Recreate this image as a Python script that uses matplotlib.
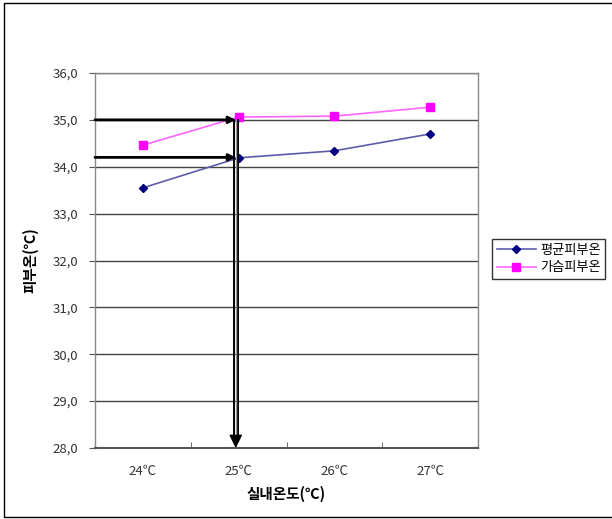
import matplotlib
matplotlib.use("Agg")
import matplotlib.pyplot as plt
from matplotlib.patches import Rectangle

plt.rcParams['font.family'] = ['Noto Sans CJK KR', 'DejaVu Sans']

categories = ['24℃', '25℃', '26℃', '27℃']
mean_skin = [33.55, 34.19, 34.34, 34.70]
chest_skin = [34.46, 35.06, 35.08, 35.27]
series_names = ['평균피부온', '가슴피부온']
y_ticks = [28.0, 29.0, 30.0, 31.0, 32.0, 33.0, 34.0, 35.0, 36.0]
y_tick_labels = [f"{v:.1f}".replace('.', ',') for v in y_ticks]

# reference levels marked by arrows
ref_levels = [35.0, 34.2]
ref_x = 0.97

fig = plt.figure(figsize=(6.12, 5.19), dpi=100)
fig.patches.append(Rectangle((4/612, 2/519), 1.2, 514/519, transform=fig.transFigure,
                             fill=False, edgecolor='black', linewidth=1.0))

ax = fig.add_axes([95/612, 71/519, 383/612, 375/519])
x = list(range(len(categories)))

ax.plot(x, mean_skin, color='#5c5cab', linewidth=1.2, marker='D', markersize=4.5,
        markerfacecolor='#000080', markeredgecolor='#000080', label=series_names[0], zorder=4)
ax.plot(x, chest_skin, color='#ff66ff', linewidth=1.2, marker='s', markersize=6,
        markerfacecolor='#ff00ff', markeredgecolor='#ff00ff', label=series_names[1], zorder=4)

ax.set_xlim(-0.5, len(categories) - 0.5)
ax.set_ylim(28.0, 36.0)
ax.set_yticks(y_ticks)
ax.set_yticklabels(y_tick_labels, fontsize=9.5, color='#333333')
ax.set_xticks(x)
ax.set_xticklabels(categories, fontsize=9.5, color='#333333')
ax.set_xticks([i + 0.5 for i in x[:-1]], minor=True)
ax.tick_params(axis='x', which='major', length=0, pad=12)
ax.tick_params(axis='x', which='minor', length=4, direction='in', color='#555555')
ax.tick_params(axis='y', length=4, direction='out', color='#555555', pad=8)

ax.grid(axis='y', color='#444444', linewidth=1.0)
ax.set_axisbelow(True)
for s in ax.spines.values():
    s.set_color('#888888')
    s.set_linewidth(1.0)
ax.spines['bottom'].set_color('#555555')
ax.spines['bottom'].set_linewidth(1.5)

ax.set_xlabel('실내온도(℃)', fontsize=10.5, fontweight='bold', labelpad=6)
ax.set_ylabel('피부온(℃)', fontsize=10.5, fontweight='bold', labelpad=10)

# horizontal reference arrows
for lvl in ref_levels:
    ax.annotate('', xy=(ref_x, lvl), xytext=(-0.5, lvl),
                arrowprops=dict(arrowstyle='-|>', color='black', lw=2.0,
                                mutation_scale=10, shrinkA=0, shrinkB=0), zorder=5)

# vertical double arrow down to the axis
ax.plot([ref_x - 0.02, ref_x - 0.02], [ref_levels[0], 28.15], color='black', lw=1.4, zorder=5)
ax.plot([ref_x + 0.02, ref_x + 0.02], [ref_levels[0], 28.15], color='black', lw=1.4, zorder=5)
ax.plot([ref_x, ref_x], [ref_levels[0], 28.15], color='#999999', lw=1.0, zorder=5)
ax.annotate('', xy=(ref_x, 28.0), xytext=(ref_x, 28.2),
            arrowprops=dict(arrowstyle='-|>,head_width=0.4,head_length=0.8', color='black', lw=1.0,
                            mutation_scale=10, shrinkA=0, shrinkB=0), zorder=6)

leg = fig.legend(loc='upper left', bbox_to_anchor=(492/612, 1 - 239/519), fontsize=9.5,
                 frameon=True, fancybox=False, edgecolor='black', handlelength=3.0,
                 borderpad=0.35, labelspacing=0.35, handletextpad=0.3, borderaxespad=0)
leg.get_frame().set_linewidth(1.0)

fig.savefig('out.png', dpi=100)
